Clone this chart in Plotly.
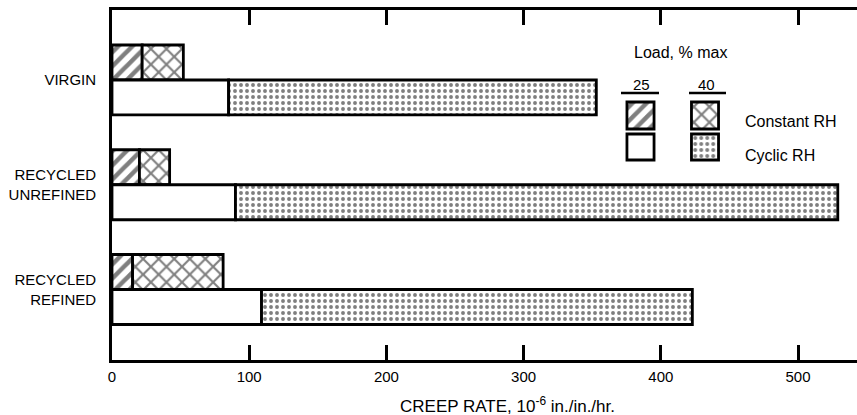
import plotly.graph_objects as go

# Creep rate (10^-6 in./in./hr.) by material, humidity condition and load level
categories = ["VIRGIN", "RECYCLED<br>UNREFINED", "RECYCLED<br>REFINED"]
constant_rh_25 = [22, 20, 15]
constant_rh_40 = [52, 42, 81]
cyclic_rh_25 = [85, 90, 109]
cyclic_rh_40 = [353, 529, 423]
x_ticks = [0, 100, 200, 300, 400, 500]

W, H = 857, 415
ML, MR, MT, MB = 112, 0, 10, 55
PW, PH = W - ML - MR, H - MT - MB
FONT = "Liberation Sans, Arial, Helvetica, sans-serif"


def px_x(p):
    return (p - ML) / PW


def px_y(p):
    return (MT + PH - p) / PH


cat_pos = [2, 1, 0]
half = 0.167
bar_w = 0.334
edge = dict(color="black", width=2.8)

hatch = dict(shape="/", fgcolor="black", bgcolor="white", size=10, solidity=0.45)
cross = dict(shape="x", fgcolor="black", bgcolor="white", size=11, solidity=0.35)
dots = dict(shape=".", fgcolor="black", bgcolor="white", size=6, solidity=0.33)

fig = go.Figure()

const_y = [p + half for p in cat_pos]
cyc_y = [p - half for p in cat_pos]

# Constant RH: 25 % load segment, then the 40 % load extension
fig.add_bar(y=const_y, x=constant_rh_25, base=[0] * 3, orientation="h", width=bar_w,
            marker=dict(color="white", pattern=hatch, line=edge))
fig.add_bar(y=const_y, x=[b - a for a, b in zip(constant_rh_25, constant_rh_40)],
            base=constant_rh_25, orientation="h", width=bar_w,
            marker=dict(color="white", pattern=cross, line=edge))
# Cyclic RH
fig.add_bar(y=cyc_y, x=cyclic_rh_25, base=[0] * 3, orientation="h", width=bar_w,
            marker=dict(color="white", line=edge))
fig.add_bar(y=cyc_y, x=[b - a for a, b in zip(cyclic_rh_25, cyclic_rh_40)],
            base=cyclic_rh_25, orientation="h", width=bar_w,
            marker=dict(color="white", pattern=dots, line=edge))

# Key swatches drawn on a small auxiliary axis pair
for col, pat in zip([0, 1], [hatch, cross]):
    fig.add_bar(x=[col], y=[27], base=[34], width=0.42, xaxis="x2", yaxis="y2",
                marker=dict(color="white", pattern=pat, line=edge))
fig.add_bar(x=[0], y=[26], base=[3], width=0.42, xaxis="x2", yaxis="y2",
            marker=dict(color="white", line=edge))
fig.add_bar(x=[1], y=[26], base=[3], width=0.42, xaxis="x2", yaxis="y2",
            marker=dict(color="white", pattern=dots, line=edge))


def note(text, x, y, size, xanchor="center"):
    return dict(text=text, x=px_x(x), y=px_y(y), xref="paper", yref="paper",
                xanchor=xanchor, yanchor="middle", showarrow=False,
                font=dict(size=size))


annotations = [
    note("Load, % max", 680, 52, 16),
    note("25", 641, 84, 15),
    note("40", 706, 84, 15),
    note("Constant RH", 743, 122, 16, "left"),
    note("Cyclic RH", 743, 155, 16, "left"),
    note("CREEP RATE, 10<sup>-6</sup> in./in./hr.", 507, 405, 17),
]

shapes = [
    dict(type="line", xref="paper", yref="paper", x0=px_x(621), x1=px_x(659),
         y0=px_y(93), y1=px_y(93), line=dict(color="black", width=2.5)),
    dict(type="line", xref="paper", yref="paper", x0=px_x(689), x1=px_x(726),
         y0=px_y(93), y1=px_y(93), line=dict(color="black", width=2.5)),
]

fig.update_layout(
    width=W, height=H,
    margin=dict(l=ML, r=MR, t=MT, b=MB),
    paper_bgcolor="white", plot_bgcolor="rgba(0,0,0,0)",
    barmode="overlay", showlegend=False,
    font=dict(family=FONT, color="black", size=14),
    annotations=annotations, shapes=shapes,
    xaxis=dict(range=[0, 543], tickvals=x_ticks, ticks="inside", ticklen=15,
               tickwidth=2.5, tickcolor="black", showline=True, linewidth=2.8,
               linecolor="black", mirror="ticks", showgrid=False, zeroline=False,
               tickfont=dict(size=15), ticklabelstandoff=1),
    yaxis=dict(range=[-0.673, 2.668], tickvals=cat_pos, ticktext=categories,
               ticks="", showline=True, linewidth=2.8, linecolor="black",
               showgrid=False, zeroline=False, tickfont=dict(size=15),
               ticklabelstandoff=10),
    xaxis2=dict(domain=[px_x(608.25), px_x(737.25)], range=[-0.5, 1.5], visible=False,
                anchor="y2", fixedrange=True),
    yaxis2=dict(domain=[px_y(163), px_y(99)], range=[0, 64], visible=False,
                anchor="x2", fixedrange=True),
)

fig.write_html("out.html")
